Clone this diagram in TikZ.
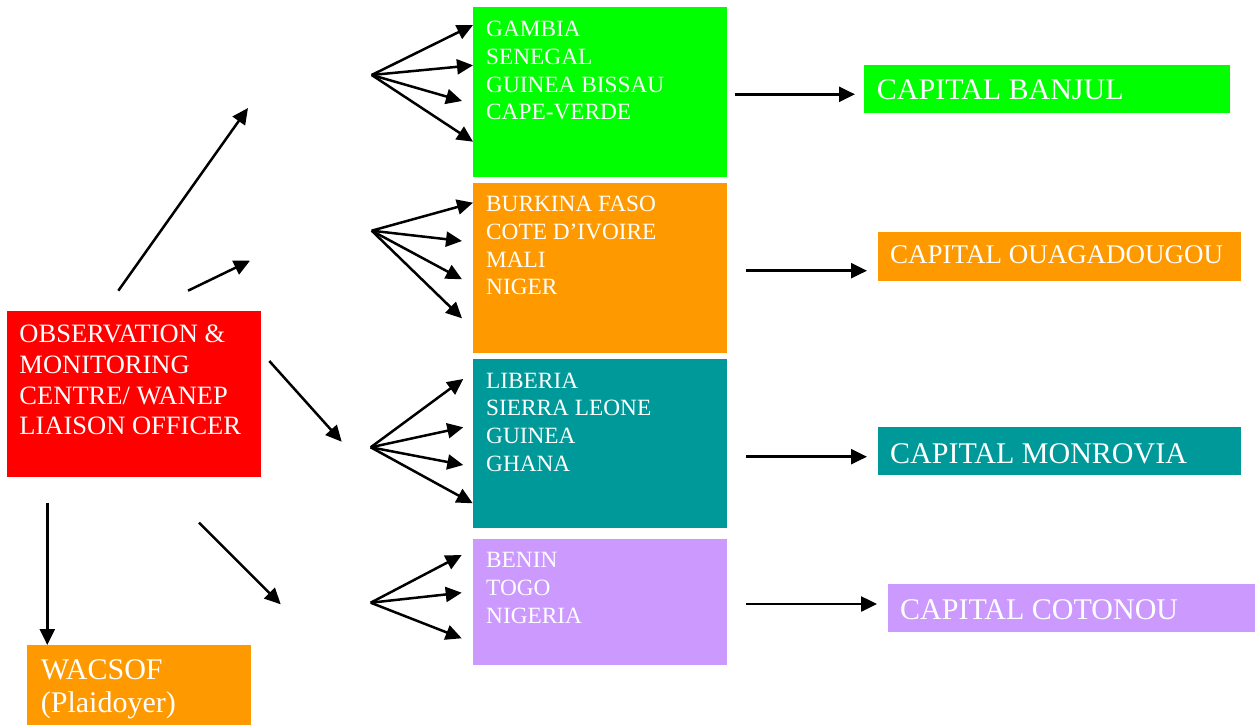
\documentclass[tikz,border=0pt]{standalone}
\usepackage{fontspec}
\setmainfont{Liberation Serif}
\usetikzlibrary{arrows.meta}
\definecolor{cgreen}{HTML}{00FF00}
\definecolor{corange}{HTML}{FF9900}
\definecolor{cteal}{HTML}{009999}
\definecolor{cpurple}{HTML}{CC99FF}
\definecolor{cred}{HTML}{FF0000}
\newcommand\boxfont{\fontsize{23.3}{27.7}\selectfont}
\newcommand\omcfont{\fontsize{26.5}{30.7}\selectfont}
\newcommand\capfont{\fontsize{30}{36}\selectfont}
\newcommand\capsmallfont{\fontsize{27}{32}\selectfont}
\newcommand\wacfont{\fontsize{30}{33}\selectfont}
\begin{document}
\begin{tikzpicture}[x=1pt,y=-1pt,
  panel/.style={fill=#1, draw=none, inner sep=0pt, outer sep=0pt, anchor=north west},
  lbl/.style={text=white, inner sep=0pt, align=left, anchor=north west},
  caplbl/.style={text=white, inner sep=0pt, anchor=base west},
  arr/.style={line width=2.5pt, -{Triangle[length=16pt,width=15pt]}},
]
\useasboundingbox (0,0) rectangle (1257,725);

% --- central office and forum ---
\node[panel=cred, minimum width=253.4pt, minimum height=165.7pt] (omc) at (7.3,311) {};
\node[lbl, font=\omcfont] (omctxt) at (19.3,325) {OBSERVATION \&\\MONITORING\\CENTRE/ WANEP\\LIAISON OFFICER};
\node[panel=corange, minimum width=224pt, minimum height=80pt] (wacsof) at (26.7,645) {};
\node[lbl, font=\wacfont] (wactxt) at (40.7,659.3) {WACSOF\\(Plaidoyer)};

% --- country groups ---
\node[panel=cgreen, minimum width=253.4pt, minimum height=169.4pt] (g1) at (473.3,7.3) {};
\node[lbl, font=\boxfont] (g1txt) at (486,21) {GAMBIA\\SENEGAL\\GUINEA BISSAU\\CAPE-VERDE};
\node[panel=corange, minimum width=253.4pt, minimum height=169.4pt] (g2) at (473.3,183.3) {};
\node[lbl, font=\boxfont] (g2txt) at (486,196) {BURKINA FASO\\COTE D’IVOIRE\\MALI\\NIGER};
\node[panel=cteal, minimum width=253.4pt, minimum height=169.3pt] (g3) at (473.3,359) {};
\node[lbl, font=\boxfont] (g3txt) at (486,372.5) {LIBERIA\\SIERRA LEONE\\GUINEA\\GHANA};
\node[panel=cpurple, minimum width=253.4pt, minimum height=125.7pt] (g4) at (473.3,539.3) {};
\node[lbl, font=\boxfont] (g4txt) at (486,552.5) {BENIN\\TOGO\\NIGERIA};

% --- capitals ---
\node[panel=cgreen, minimum width=366pt, minimum height=48pt] (c1) at (864,65) {};
\node[caplbl, font=\capfont] (c1txt) at (876.7,99.2) {CAPITAL BANJUL};
\node[panel=corange, minimum width=363pt, minimum height=48.7pt] (c2) at (877.7,232) {};
\node[caplbl, font=\capsmallfont] (c2txt) at (890,263.3) {CAPITAL OUAGADOUGOU};
\node[panel=cteal, minimum width=363pt, minimum height=48.3pt] (c3) at (877.7,426.7) {};
\node[caplbl, font=\capfont] (c3txt) at (890,463.3) {CAPITAL MONROVIA};
\node[panel=cpurple, minimum width=367.3pt, minimum height=48.3pt] (c4) at (887.7,584) {};
\node[caplbl, font=\capfont] (c4txt) at (900,619.3) {CAPITAL COTONOU};

% --- arrows leaving the office ---
\coordinate (o1) at (118.3,290.7); \coordinate (t1) at (248,108);
\coordinate (o2) at (188,290.7);   \coordinate (t2) at (250,260.7);
\coordinate (o3) at (269.3,361);   \coordinate (t3) at (341.7,441.7);
\coordinate (o4) at (199,522.7);   \coordinate (t4) at (280.7,604.3);
\coordinate (o5) at (47.3,502.7);
\draw[arr] (o1) -- (t1);
\draw[arr] (o2) -- (t2);
\draw[arr] (o3) -- (t3);
\draw[arr] (o4) -- (t4);
\draw[arr] (o5) -- (o5 |- wacsof.north);

% --- fans into the groups ---
\coordinate (f1) at (371.7,75);
\coordinate (f1a) at (473,25); \coordinate (f1b) at (473,65.3);
\coordinate (f1c) at (462,101); \coordinate (f1d) at (473,141.7);
\foreach \t in {f1a,f1b,f1c,f1d} \draw[arr] (f1) -- (\t);

\coordinate (f2) at (371.7,230.7);
\coordinate (f2a) at (473,202.7); \coordinate (f2b) at (462,241);
\coordinate (f2c) at (462,279.3); \coordinate (f2d) at (462,318.3);
\foreach \t in {f2a,f2b,f2c,f2d} \draw[arr] (f2) -- (\t);

\coordinate (f3) at (370.7,447.3);
\coordinate (f3a) at (463.3,379); \coordinate (f3b) at (463.3,427.3);
\coordinate (f3c) at (463.3,465); \coordinate (f3d) at (472.7,503.3);
\foreach \t in {f3a,f3b,f3c,f3d} \draw[arr] (f3) -- (\t);

\coordinate (f4) at (370.7,602.7);
\coordinate (f4a) at (461.7,555); \coordinate (f4b) at (461.7,592.7);
\coordinate (f4c) at (461.7,638.3);
\foreach \t in {f4a,f4b,f4c} \draw[arr] (f4) -- (\t);

% --- groups to capitals ---
\coordinate (h1) at (735,94.3);
\coordinate (h2) at (746,270.7);
\coordinate (h3) at (746,456.7);
\coordinate (h4) at (746,604);
\draw[arr, shorten >=9pt] (h1) -- (h1 -| c1.west);
\draw[arr, shorten >=10.7pt] (h2) -- (h2 -| c2.west);
\draw[arr, shorten >=10.7pt] (h3) -- (h3 -| c3.west);
\draw[arr, shorten >=10.7pt] (h4) -- (h4 -| c4.west);
\end{tikzpicture}
\end{document}
